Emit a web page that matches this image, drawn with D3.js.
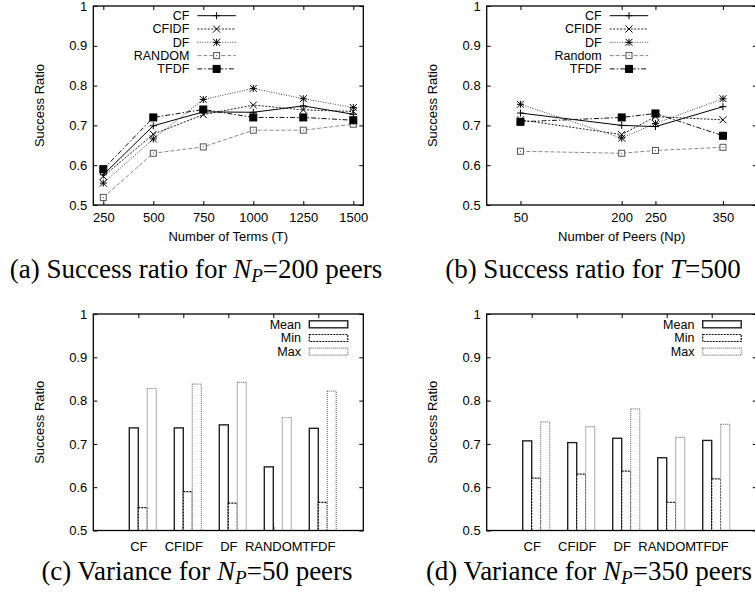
<!doctype html>
<html>
<head>
<meta charset="utf-8">
<script src="https://cdn.jsdelivr.net/npm/d3@7"></script>
<style>
  body { margin: 0; background: #fff; }
  svg { display: block; }
  text { font-family: "Liberation Sans", Arial, sans-serif; }
  .cap { font-family: "Liberation Serif", "Times New Roman", serif; }
</style>
</head>
<body>
<script>
// ---- data ----
const ratioTicks = [0.5, 0.6, 0.7, 0.8, 0.9, 1];
const termTicks = [250, 500, 750, 1000, 1250, 1500];
const peerTicks = [50, 200, 250, 350];

const namesA = ["CF", "CFIDF", "DF", "RANDOM", "TFDF"];
const namesB = ["CF", "CFIDF", "DF", "Random", "TFDF"];

// (a) success ratio vs number of terms, Np = 200
const cfTerms     = [0.576, 0.699, 0.734, 0.733, 0.749, 0.728];
const cfidfTerms  = [0.572, 0.678, 0.727, 0.751, 0.739, 0.735];
const dfTerms     = [0.555, 0.666, 0.765, 0.793, 0.767, 0.745];
const randomTerms = [0.519, 0.630, 0.646, 0.688, 0.688, 0.703];
const tfdfTerms   = [0.590, 0.720, 0.740, 0.720, 0.720, 0.713];

// (b) success ratio vs number of peers, T = 500
const cfPeers     = [0.731, 0.700, 0.697, 0.747];
const cfidfPeers  = [0.714, 0.677, 0.722, 0.714];
const dfPeers     = [0.753, 0.668, 0.705, 0.767];
const randomPeers = [0.635, 0.630, 0.637, 0.645];
const tfdfPeers   = [0.709, 0.720, 0.730, 0.674];

// (c) variance, Np = 50
const meanNp50 = [0.737, 0.737, 0.744, 0.647, 0.736];
const minNp50  = [0.553, 0.590, 0.563, 0.480, 0.565];
const maxNp50  = [0.828, 0.838, 0.842, 0.761, 0.822];

// (d) variance, Np = 350
const meanNp350 = [0.707, 0.703, 0.713, 0.668, 0.708];
const minNp350  = [0.621, 0.630, 0.637, 0.565, 0.619];
const maxNp350  = [0.751, 0.740, 0.781, 0.715, 0.745];

const barNames = ["Mean", "Min", "Max"];

// ---- styles ----
const lineStyles = [
  {stroke: "#000", dash: null, mark: "plus"},
  {stroke: "#222", dash: "2,1.5", mark: "cross"},
  {stroke: "#444", dash: "1,1.5", mark: "star"},
  {stroke: "#8a8a8a", dash: "4,2", mark: "box"},
  {stroke: "#111", dash: "5,2,1.5,2", mark: "fbox"}
];
const barStyles = [
  {stroke: "#222", dash: null, w: 1.4},
  {stroke: "#111", dash: "2,1", w: 1.2},
  {stroke: "#777", dash: "1,1", w: 1.2}
];

const W = 270;
const svg = d3.select("body").append("svg").attr("width", 755).attr("height", 598);
let clipId = 0;

function yAxes(g, y, h) {
  g.append("g")
    .call(d3.axisLeft(y).tickValues(ratioTicks).tickSizeInner(-4).tickSizeOuter(0)
      .tickPadding(6).tickFormat(d3.format("~g")))
    .call(a => a.select(".domain").remove())
    .attr("font-size", 13).attr("font-family", "Liberation Sans, Arial, sans-serif");
  g.append("g").attr("transform", `translate(${W},0)`)
    .call(d3.axisRight(y).tickValues(ratioTicks).tickSizeInner(-4).tickSizeOuter(0).tickFormat(""))
    .call(a => a.select(".domain").remove());
  g.append("text")
    .attr("transform", `translate(-54,${h / 2}) rotate(-90)`)
    .attr("text-anchor", "middle").attr("dy", "0.35em")
    .attr("font-size", 13).text("Success Ratio");
}

function frame(g, h) {
  g.append("rect").attr("width", W).attr("height", h)
    .attr("fill", "none").attr("stroke", "#000").attr("stroke-width", 1.3);
}

function marker(sel, kind) {
  const s = 3.5;
  if (kind === "plus") sel.append("path").attr("d", `M${-s},0H${s}M0,${-s}V${s}`);
  if (kind === "cross") sel.append("path").attr("d", `M${-s},${-s}L${s},${s}M${-s},${s}L${s},${-s}`);
  if (kind === "star") sel.append("path")
    .attr("d", `M${-s},0H${s}M0,${-s}V${s}M${-s},${-s}L${s},${s}M${-s},${s}L${s},${-s}`);
  if (kind === "box") {
    sel.append("rect").attr("x", -3).attr("y", -3).attr("width", 6).attr("height", 6).attr("fill", "#fff");
    sel.append("rect").attr("x", -0.5).attr("y", -0.5).attr("width", 1).attr("height", 1)
      .attr("fill", "#444").attr("stroke", "none");
  }
  if (kind === "fbox") sel.append("rect").attr("x", -3.5).attr("y", -3.5)
    .attr("width", 7).attr("height", 7).attr("fill", "#000");
}

function lineChart(x0, y0, h, xDomain, xTicks, xTitle, names, series, key) {
  const g = svg.append("g").attr("transform", `translate(${x0},${y0})`);
  const x = d3.scaleLinear().domain(xDomain).range([0, W]);
  const y = d3.scaleLinear().domain([0.5, 1]).range([h, 0]);

  g.append("g").attr("transform", `translate(0,${h})`)
    .call(d3.axisBottom(x).tickValues(xTicks).tickSizeInner(-4).tickSizeOuter(0).tickPadding(8)
      .tickFormat(d3.format("d")))
    .call(a => a.select(".domain").remove())
    .attr("font-size", 13).attr("font-family", "Liberation Sans, Arial, sans-serif");
  g.append("g")
    .call(d3.axisTop(x).tickValues(xTicks).tickSizeInner(-4).tickSizeOuter(0).tickFormat(""))
    .call(a => a.select(".domain").remove());
  yAxes(g, y, h);
  g.append("text").attr("x", W / 2).attr("y", h + 36).attr("text-anchor", "middle")
    .attr("font-size", 13).text(xTitle);

  const line = d3.line().x((d, i) => x(xTicks[i])).y(d => y(d));
  series.forEach((vals, k) => {
    const st = lineStyles[k];
    g.append("path").attr("d", line(vals)).attr("fill", "none")
      .attr("stroke", st.stroke).attr("stroke-width", 1).attr("stroke-dasharray", st.dash);
    vals.forEach((v, i) => {
      const m = g.append("g").attr("transform", `translate(${x(xTicks[i])},${y(v)})`)
        .attr("stroke", st.stroke === "#8a8a8a" ? "#555" : "#000").attr("stroke-width", 1);
      marker(m, st.mark);
    });
  });

  // key
  names.forEach((n, k) => {
    const st = lineStyles[k];
    const ry = 9.7 + 13.3 * k;
    g.append("text").attr("x", key).attr("y", ry).attr("dy", "0.35em")
      .attr("text-anchor", "end").attr("font-size", 12.5).text(n);
    g.append("line").attr("x1", key + 8).attr("x2", key + 46.5).attr("y1", ry).attr("y2", ry)
      .attr("stroke", st.stroke).attr("stroke-dasharray", st.dash);
    const m = g.append("g").attr("transform", `translate(${key + 27.3},${ry})`)
      .attr("stroke", st.stroke === "#8a8a8a" ? "#555" : "#000");
    marker(m, st.mark);
  });
  frame(g, h);
}

function barChart(x0, y0, h, groups) {
  const g = svg.append("g").attr("transform", `translate(${x0},${y0})`);
  const x = d3.scaleLinear().domain([0, 30]).range([0, W]);   // slot units
  const y = d3.scaleLinear().domain([0.5, 1]).range([h, 0]);
  const id = "clip" + (clipId++);
  g.append("clipPath").attr("id", id).append("rect").attr("width", W).attr("height", h);

  const labelSlots = namesA.map((d, i) => 5 + 5 * i);
  g.append("g").attr("transform", `translate(0,${h})`)
    .call(d3.axisBottom(x).tickValues(labelSlots).tickSizeInner(-4).tickSizeOuter(0).tickPadding(11)
      .tickFormat((d, i) => namesA[i]))
    .call(a => a.select(".domain").remove())
    .attr("font-size", 13).attr("font-family", "Liberation Sans, Arial, sans-serif");
  g.append("g")
    .call(d3.axisTop(x).tickValues(labelSlots).tickSizeInner(-4).tickSizeOuter(0).tickFormat(""))
    .call(a => a.select(".domain").remove());
  yAxes(g, y, h);

  const bars = g.append("g").attr("clip-path", `url(#${id})`);
  groups.forEach((vals, k) => {
    const st = barStyles[k];
    bars.selectAll(null).data(vals).join("rect")
      .attr("x", (d, i) => x(4 + 5 * i + k))
      .attr("width", x(1) - x(0))
      .attr("y", d => y(d))
      .attr("height", d => h + 2 - y(d))
      .attr("fill", "#fff").attr("stroke", st.stroke)
      .attr("stroke-width", st.w).attr("stroke-dasharray", st.dash);
  });

  barNames.forEach((n, k) => {
    const st = barStyles[k];
    const ry = 10.3 + 13.7 * k;
    g.append("text").attr("x", 207.7).attr("y", ry).attr("dy", "0.35em")
      .attr("text-anchor", "end").attr("font-size", 12.5).text(n);
    g.append("rect").attr("x", 216).attr("y", ry - 3.5).attr("width", 38.5).attr("height", 7)
      .attr("fill", "#fff").attr("stroke", st.stroke)
      .attr("stroke-width", st.w).attr("stroke-dasharray", st.dash);
  });
  frame(g, h);
}

lineChart(93.3, 6, 199, [200, 1550], termTicks, "Number of Terms (T)", namesA,
  [cfTerms, cfidfTerms, dfTerms, randomTerms, tfdfTerms], 96);
lineChart(486.7, 6, 199, [0, 400], peerTicks, "Number of Peers (Np)", namesB,
  [cfPeers, cfidfPeers, dfPeers, randomPeers, tfdfPeers], 115);
barChart(93.3, 314, 216.5, [meanNp50, minNp50, maxNp50]);
barChart(486.7, 314, 216.5, [meanNp350, minNp350, maxNp350]);

// captions
function caption(cx, cy, pre, sym, post) {
  const t = svg.append("text").attr("class", "cap").attr("x", cx).attr("y", cy)
    .attr("text-anchor", "middle").attr("font-size", 27);
  t.append("tspan").text(pre);
  if (sym === "NP") {
    t.append("tspan").attr("font-style", "italic").text("N");
    t.append("tspan").attr("font-style", "italic").attr("font-size", 19).attr("dy", 4).text("P");
    t.append("tspan").attr("dy", -4).text(post);
  } else {
    t.append("tspan").attr("font-style", "italic").text(sym);
    t.append("tspan").text(post);
  }
}
caption(196, 278, "(a) Success ratio for ", "NP", "=200 peers");
caption(593, 278, "(b) Success ratio for ", "T", "=500");
caption(197, 580, "(c) Variance for ", "NP", "=50 peers");
caption(589, 580, "(d) Variance for ", "NP", "=350 peers");
</script>
</body>
</html>
